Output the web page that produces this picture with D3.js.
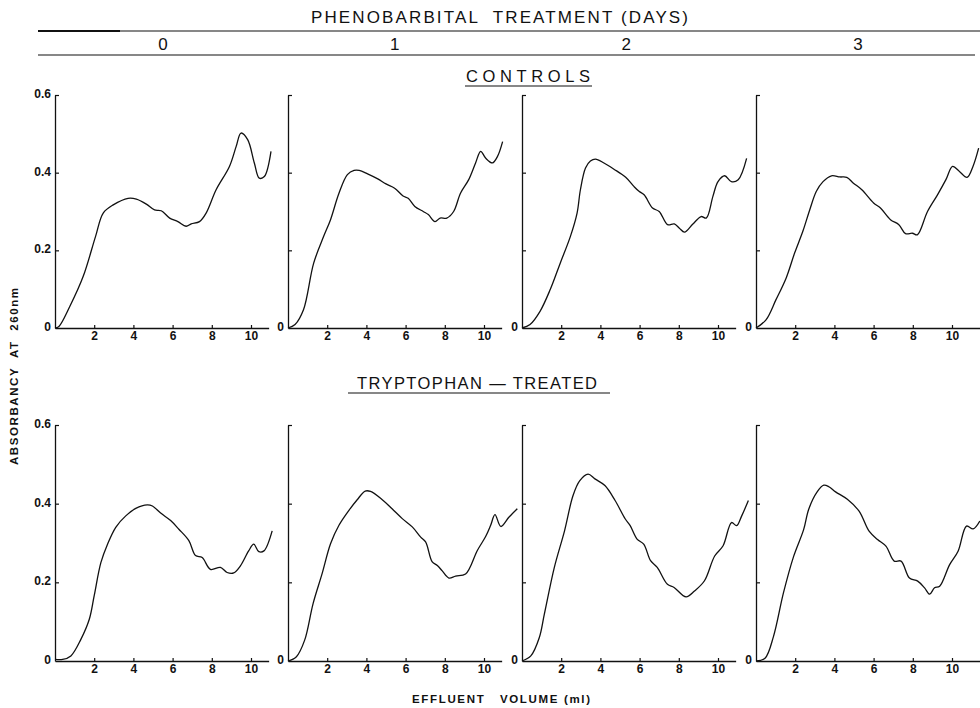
<!DOCTYPE html>
<html>
<head>
<meta charset="utf-8">
<script src="https://cdn.jsdelivr.net/npm/d3@7"></script>
<style>
  html, body { margin: 0; padding: 0; background: #fff; }
  svg { display: block; }
  text { fill: #111; }
</style>
</head>
<body>
<div id="chart"></div>
<script>
// ── Data ─────────────────────────────────────────────────────────────────
const days     = ["0", "1", "2", "3"];
const rowNames = ["CONTROLS", "TRYPTOPHAN \u2014 TREATED"];
const xTicks   = [2, 4, 6, 8, 10];
const yTicks   = [0, 0.2, 0.4, 0.6];

// [effluent volume (ml), absorbancy at 260nm]
const controlsDay0 = [[0,0],[0.2,0.004],[0.76,0.056],[1.44,0.133],[2.07,0.236],[2.46,0.296],[2.97,0.317],
  [3.73,0.334],[4.15,0.332],[4.66,0.319],[5.08,0.304],[5.42,0.302],[5.85,0.283],[6.27,0.274],[6.69,0.262],
  [6.95,0.268],[7.37,0.274],[7.71,0.296],[8.22,0.356],[8.9,0.416],[9.24,0.467],[9.49,0.502],[9.83,0.485],
  [10.17,0.425],[10.42,0.386],[10.68,0.39],[11.02,0.455]];
const controlsDay1 = [[0,0],[0.36,0.009],[0.79,0.047],[1.31,0.167],[1.82,0.236],[2.17,0.279],[2.6,0.347],
  [3.03,0.395],[3.37,0.406],[3.63,0.406],[4.06,0.397],[4.58,0.384],[5.0,0.371],[5.44,0.36],[5.87,0.34],
  [6.13,0.334],[6.47,0.313],[6.9,0.3],[7.16,0.292],[7.5,0.274],[7.76,0.283],[8.1,0.283],[8.45,0.3],
  [8.8,0.347],[9.22,0.382],[9.57,0.425],[9.83,0.455],[10.09,0.437],[10.43,0.425],[10.69,0.442],[10.95,0.48]];
const controlsDay2 = [[0,0],[0.41,0.009],[0.92,0.043],[1.44,0.099],[1.95,0.167],[2.47,0.236],[2.81,0.296],
  [2.98,0.356],[3.24,0.412],[3.49,0.43],[3.75,0.435],[4.18,0.425],[4.69,0.409],[5.29,0.388],[5.72,0.364],
  [5.97,0.352],[6.23,0.343],[6.66,0.309],[7.0,0.3],[7.43,0.266],[7.77,0.268],[8.03,0.257],[8.29,0.247],
  [8.72,0.268],[9.14,0.287],[9.4,0.283],[9.74,0.339],[10.0,0.377],[10.34,0.392],[10.68,0.377],[11.03,0.382],
  [11.46,0.437]];
const controlsDay3 = [[0,0],[0.51,0.021],[1.02,0.073],[1.54,0.129],[1.97,0.193],[2.39,0.249],[2.74,0.304],
  [3.08,0.352],[3.42,0.377],[3.85,0.392],[4.28,0.389],[4.63,0.388],[4.97,0.373],[5.4,0.356],[6.0,0.322],
  [6.35,0.309],[6.86,0.279],[7.29,0.266],[7.63,0.243],[7.98,0.244],[8.23,0.24],[8.75,0.3],[9.26,0.343],
  [9.69,0.382],[10.03,0.416],[10.38,0.403],[10.77,0.388],[11.07,0.416],[11.36,0.463]];

const tryptoDay0 = [[0,0.004],[0.39,0.004],[0.81,0.013],[1.32,0.055],[1.75,0.106],[2.0,0.166],[2.34,0.25],
  [2.68,0.297],[3.1,0.34],[3.61,0.369],[4.12,0.388],[4.71,0.397],[4.97,0.394],[5.39,0.376],[5.9,0.357],
  [6.32,0.335],[6.83,0.306],[7.17,0.268],[7.51,0.263],[7.93,0.233],[8.44,0.238],[8.78,0.225],[9.12,0.224],
  [9.46,0.242],[9.88,0.28],[10.14,0.297],[10.4,0.278],[10.66,0.28],[11.08,0.331]];
const tryptoDay1 = [[0,0],[0.43,0.011],[0.85,0.053],[1.28,0.146],[1.74,0.222],[2.17,0.298],[2.6,0.345],
  [3.11,0.383],[3.53,0.41],[3.94,0.432],[4.21,0.431],[4.81,0.41],[5.31,0.387],[5.83,0.362],[6.34,0.341],
  [6.77,0.315],[7.02,0.303],[7.36,0.252],[7.62,0.243],[7.87,0.229],[8.21,0.211],[8.55,0.216],[9.06,0.221],
  [9.66,0.281],[10.09,0.317],[10.34,0.345],[10.56,0.372],[10.86,0.342],[11.28,0.366],[11.7,0.387]];
const tryptoDay2 = [[0,0],[0.45,0.013],[0.88,0.059],[1.14,0.119],[1.65,0.238],[2.17,0.331],[2.6,0.42],
  [2.94,0.458],[3.37,0.475],[3.72,0.463],[4.23,0.446],[4.75,0.408],[5.27,0.361],[5.52,0.344],[5.87,0.31],
  [6.21,0.297],[6.56,0.255],[6.9,0.238],[7.42,0.195],[7.76,0.187],[8.37,0.163],[8.8,0.178],[9.31,0.204],
  [9.83,0.267],[10.26,0.293],[10.69,0.352],[10.95,0.344],[11.21,0.369],[11.55,0.408]];
const tryptoDay3 = [[0,0],[0.46,0.007],[0.89,0.062],[1.4,0.173],[1.92,0.266],[2.43,0.334],[2.69,0.386],
  [3.12,0.43],[3.46,0.447],[3.72,0.443],[4.06,0.43],[4.66,0.411],[5.26,0.381],[5.77,0.33],[6.2,0.309],
  [6.63,0.292],[7.05,0.254],[7.4,0.254],[7.83,0.211],[8.25,0.203],[8.6,0.186],[8.86,0.17],[9.11,0.186],
  [9.37,0.19],[9.88,0.245],[10.31,0.279],[10.74,0.343],[11.08,0.336],[11.42,0.356]];

const rows = [
  [controlsDay0, controlsDay1, controlsDay2, controlsDay3],
  [tryptoDay0,   tryptoDay1,   tryptoDay2,   tryptoDay3]
];

// ── Layout ───────────────────────────────────────────────────────────────
const W = 980, H = 708;
const colX    = [55, 288, 522, 756];        // y-axis position of each column
const pxPerMl = 19.6;
const axisEnd = [10.9, 10.9, 10.9, 11.6];   // x-axis length (ml)
const rowY    = [{ y0: 328, yTop: 95 }, { y0: 661, yTop: 425 }];

const font = "'Liberation Sans', Arial, sans-serif";

const svg = d3.select("#chart").append("svg")
  .attr("width", W).attr("height", H)
  .style("font-family", font);

// ── Header ───────────────────────────────────────────────────────────────
svg.append("text")
  .attr("x", 311).attr("y", 23)
  .attr("font-size", 17)
  .attr("textLength", 377).attr("lengthAdjust", "spacing")
  .style("white-space", "pre")
  .text("PHENOBARBITAL  TREATMENT (DAYS)");

svg.append("line").attr("x1", 38).attr("x2", 980).attr("y1", 31).attr("y2", 31)
  .attr("stroke", "#111").attr("stroke-width", 1.2);
svg.append("line").attr("x1", 38).attr("x2", 120).attr("y1", 31).attr("y2", 31)
  .attr("stroke", "#111").attr("stroke-width", 2.2);
svg.append("line").attr("x1", 38).attr("x2", 975).attr("y1", 55).attr("y2", 55)
  .attr("stroke", "#111").attr("stroke-width", 1.2);

const dayX = d3.scalePoint().domain(days).range([163, 858]);
svg.selectAll("text.day").data(days).join("text")
  .attr("class", "day")
  .attr("x", d => dayX(d)).attr("y", 50)
  .attr("text-anchor", "middle")
  .attr("font-size", 17)
  .text(d => d);

// Row titles with underline
const rowTitleBox = [
  { x: 466, y: 82, len: 124, ux1: 465, ux2: 592, uy: 86 },
  { x: 357, y: 389, len: 240, ux1: 348, ux2: 610, uy: 393 }
];
rowNames.forEach((name, i) => {
  const b = rowTitleBox[i];
  svg.append("text")
    .attr("x", b.x).attr("y", b.y)
    .attr("font-size", 16.5)
    .attr("textLength", b.len).attr("lengthAdjust", "spacing")
    .text(name);
  svg.append("line")
    .attr("x1", b.ux1).attr("x2", b.ux2).attr("y1", b.uy).attr("y2", b.uy)
    .attr("stroke", "#111").attr("stroke-width", 1.2);
});

// ── Panels ───────────────────────────────────────────────────────────────
const fmtY = d => d === 0 ? "0" : d3.format(".1f")(d);

rows.forEach((series, r) => {
  const { y0, yTop } = rowY[r];
  const y = d3.scaleLinear().domain([0, 0.6]).range([y0, yTop]);

  series.forEach((data, c) => {
    const x = d3.scaleLinear()
      .domain([0, axisEnd[c]])
      .range([colX[c], colX[c] + axisEnd[c] * pxPerMl]);

    const g = svg.append("g");

    // y axis — inward ticks, labels only in first column (plus the origin 0)
    const yAxis = g.append("g")
      .attr("transform", `translate(${colX[c]},0)`)
      .call(d3.axisLeft(y)
        .tickValues(yTicks)
        .tickSize(-4)
        .tickSizeOuter(0)
        .tickPadding(4)
        .tickFormat(d => (c === 0 || d === 0) ? fmtY(d) : ""));
    yAxis.select(".domain").attr("stroke", "#111").attr("stroke-width", 1.3);
    yAxis.selectAll(".tick line").attr("stroke", "#111").attr("stroke-width", 1.2);
    yAxis.selectAll(".tick text")
      .attr("font-size", 12).attr("font-weight", "bold")
      .attr("font-family", font).attr("fill", "#111")
      .attr("dy", "0.2em");
    yAxis.selectAll(".tick").filter(d => d === 0).select("line").remove();

    // x axis
    const xAxis = g.append("g")
      .attr("transform", `translate(0,${y0})`)
      .call(d3.axisBottom(x)
        .tickValues(xTicks)
        .tickSize(-3)
        .tickSizeOuter(0)
        .tickPadding(3));
    xAxis.select(".domain").attr("stroke", "#111").attr("stroke-width", 1.6);
    xAxis.selectAll(".tick line").attr("stroke", "#111").attr("stroke-width", 1.2);
    xAxis.selectAll(".tick text")
      .attr("font-size", 12).attr("font-weight", "bold")
      .attr("font-family", font).attr("fill", "#111");

    // elution curve
    const line = d3.line()
      .x(d => x(d[0]))
      .y(d => y(d[1]))
      .curve(d3.curveCatmullRom.alpha(0.5));

    g.append("path")
      .datum(data)
      .attr("fill", "none")
      .attr("stroke", "#111")
      .attr("stroke-width", 1.3)
      .attr("stroke-linejoin", "round")
      .attr("d", line);
  });
});

// ── Axis titles ──────────────────────────────────────────────────────────
svg.append("text")
  .attr("transform", "translate(18,465) rotate(-90)")
  .attr("font-size", 11.5).attr("font-weight", "bold")
  .attr("textLength", 177).attr("lengthAdjust", "spacing")
  .style("white-space", "pre")
  .text("ABSORBANCY  AT  260nm");

svg.append("text")
  .attr("x", 412).attr("y", 703)
  .attr("font-size", 11.5).attr("font-weight", "bold")
  .attr("textLength", 178).attr("lengthAdjust", "spacing")
  .style("white-space", "pre")
  .text("EFFLUENT   VOLUME (ml)");
</script>
</body>
</html>
